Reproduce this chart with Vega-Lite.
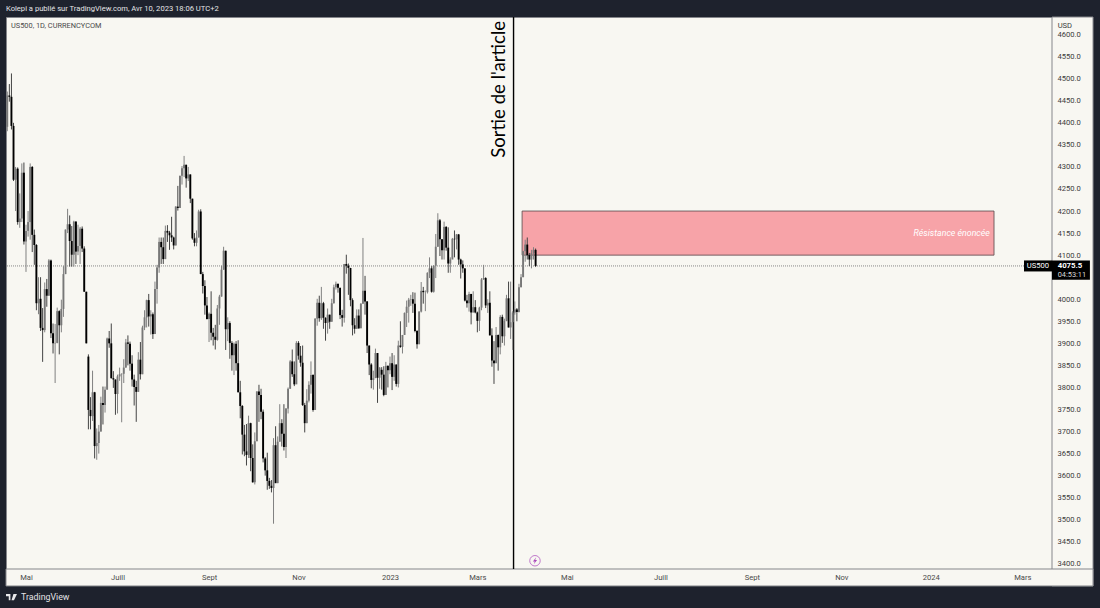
{"$schema":"https://vega.github.io/schema/vega-lite/v6.json","width":1046,"height":552,"autosize":{"type":"none"},"padding":{"left":6,"top":17,"right":48,"bottom":39},"background":"#1e222d","view":{"fill":"#f8f7f2","stroke":"#85868b","strokeWidth":1},"config":{"font":"Roboto"},
"resolve":{"axis":{"x":"independent","y":"independent"}},
"datasets":{"candles":[
{"b":1,"o":4391,"h":4471,"l":4381,"c":4462},{"b":2,"o":4462,"h":4488,"l":4448,"c":4459},{"b":3,"o":4459,"h":4512,"l":4385,"c":4393},{"b":4,"o":4393,"h":4400,"l":4268,"c":4271},
{"b":5,"o":4271,"h":4300,"l":4200,"c":4296},{"b":6,"o":4296,"h":4299,"l":4169,"c":4175},{"b":7,"o":4175,"h":4240,"l":4162,"c":4183},{"b":8,"o":4183,"h":4308,"l":4175,"c":4287},{"b":9,"o":4287,"h":4310,"l":4124,"c":4131},
{"b":10,"o":4131,"h":4169,"l":4062,"c":4155},{"b":11,"o":4155,"h":4200,"l":4142,"c":4175},{"b":12,"o":4175,"h":4308,"l":4135,"c":4300},{"b":13,"o":4300,"h":4302,"l":4107,"c":4146},{"b":14,"o":4146,"h":4158,"l":4078,"c":4123},
{"b":15,"o":4123,"h":4125,"l":3975,"c":3991},{"b":16,"o":3991,"h":4050,"l":3966,"c":4001},{"b":17,"o":4001,"h":4050,"l":3928,"c":3935},{"b":18,"o":3935,"h":3980,"l":3858,"c":3930},{"b":19,"o":3930,"h":4038,"l":3925,"c":4023},
{"b":20,"o":4023,"h":4046,"l":3983,"c":4008},{"b":21,"o":4008,"h":4091,"l":4008,"c":4088},{"b":22,"o":4088,"h":4090,"l":3912,"c":3923},{"b":23,"o":3923,"h":3945,"l":3877,"c":3900},{"b":24,"o":3900,"h":3944,"l":3810,"c":3901},
{"b":25,"o":3901,"h":3981,"l":3900,"c":3973},{"b":26,"o":3973,"h":3975,"l":3875,"c":3941},{"b":27,"o":3941,"h":3999,"l":3925,"c":3978},{"b":28,"o":3978,"h":4075,"l":3960,"c":4057},{"b":29,"o":4057,"h":4158,"l":4057,"c":4158},
{"b":30,"o":4158,"h":4205,"l":4150,"c":4170},{"b":31,"o":4170,"h":4190,"l":4074,"c":4132},{"b":32,"o":4132,"h":4166,"l":4074,"c":4101},{"b":33,"o":4101,"h":4178,"l":4074,"c":4176},{"b":34,"o":4176,"h":4177,"l":4080,"c":4108},
{"b":35,"o":4108,"h":4169,"l":4100,"c":4121},{"b":36,"o":4121,"h":4164,"l":4080,"c":4160},{"b":37,"o":4160,"h":4165,"l":4107,"c":4115},{"b":38,"o":4115,"h":4120,"l":4017,"c":4017},{"b":39,"o":4017,"h":4017,"l":3900,"c":3900},
{"b":40,"o":3870,"h":3875,"l":3705,"c":3749},{"b":41,"o":3749,"h":3778,"l":3705,"c":3735},{"b":42,"o":3735,"h":3838,"l":3724,"c":3789},{"b":43,"o":3789,"h":3790,"l":3639,"c":3667},{"b":44,"o":3667,"h":3707,"l":3636,"c":3674},
{"b":45,"o":3674,"h":3715,"l":3650,"c":3700},{"b":46,"o":3700,"h":3779,"l":3700,"c":3765},{"b":47,"o":3765,"h":3802,"l":3716,"c":3760},{"b":48,"o":3760,"h":3802,"l":3743,"c":3795},{"b":49,"o":3795,"h":3913,"l":3795,"c":3911},
{"b":50,"o":3911,"h":3928,"l":3890,"c":3900},{"b":51,"o":3900,"h":3945,"l":3820,"c":3821},{"b":52,"o":3821,"h":3837,"l":3799,"c":3818},{"b":53,"o":3818,"h":3818,"l":3738,"c":3785},{"b":54,"o":3785,"h":3829,"l":3741,"c":3825},
{"b":55,"o":3825,"h":3845,"l":3815,"c":3830},{"b":56,"o":3830,"h":3832,"l":3721,"c":3831},{"b":57,"o":3831,"h":3864,"l":3810,"c":3845},{"b":58,"o":3845,"h":3910,"l":3845,"c":3902},{"b":59,"o":3902,"h":3918,"l":3850,"c":3899},
{"b":60,"o":3899,"h":3904,"l":3838,"c":3854},{"b":61,"o":3854,"h":3873,"l":3802,"c":3818},{"b":62,"o":3818,"h":3829,"l":3759,"c":3801},{"b":63,"o":3801,"h":3815,"l":3722,"c":3790},{"b":64,"o":3790,"h":3880,"l":3790,"c":3863},
{"b":65,"o":3863,"h":3903,"l":3818,"c":3830},{"b":66,"o":3830,"h":3940,"l":3830,"c":3936},{"b":67,"o":3936,"h":3975,"l":3930,"c":3959},{"b":68,"o":3959,"h":3999,"l":3936,"c":3998},{"b":69,"o":3998,"h":4012,"l":3938,"c":3961},
{"b":70,"o":3961,"h":3975,"l":3920,"c":3966},{"b":71,"o":3966,"h":3970,"l":3910,"c":3921},{"b":72,"o":3921,"h":4040,"l":3921,"c":4023},{"b":73,"o":4023,"h":4078,"l":3990,"c":4072},{"b":74,"o":4072,"h":4140,"l":4060,"c":4130},
{"b":75,"o":4130,"h":4140,"l":4080,"c":4118},{"b":76,"o":4118,"h":4140,"l":4080,"c":4091},{"b":77,"o":4091,"h":4167,"l":4091,"c":4155},{"b":78,"o":4155,"h":4168,"l":4130,"c":4151},{"b":79,"o":4151,"h":4155,"l":4112,"c":4145},
{"b":80,"o":4145,"h":4187,"l":4130,"c":4140},{"b":81,"o":4140,"h":4142,"l":4113,"c":4122},{"b":82,"o":4122,"h":4211,"l":4122,"c":4210},{"b":83,"o":4210,"h":4257,"l":4201,"c":4207},{"b":84,"o":4207,"h":4280,"l":4207,"c":4280},
{"b":85,"o":4280,"h":4302,"l":4260,"c":4297},{"b":86,"o":4297,"h":4325,"l":4277,"c":4305},{"b":87,"o":4305,"h":4305,"l":4253,"c":4274},{"b":88,"o":4274,"h":4300,"l":4268,"c":4283},{"b":89,"o":4283,"h":4283,"l":4218,"c":4228},
{"b":90,"o":4228,"h":4228,"l":4135,"c":4138},{"b":91,"o":4138,"h":4150,"l":4120,"c":4128},{"b":92,"o":4128,"h":4156,"l":4120,"c":4140},{"b":93,"o":4140,"h":4203,"l":4140,"c":4199},{"b":94,"o":4199,"h":4204,"l":4057,"c":4057},
{"b":95,"o":4057,"h":4062,"l":4013,"c":4030},{"b":96,"o":4030,"h":4043,"l":3965,"c":3986},{"b":97,"o":3986,"h":4005,"l":3954,"c":3955},{"b":98,"o":3955,"h":3970,"l":3903,"c":3967},{"b":99,"o":3967,"h":4018,"l":3907,"c":3924},
{"b":100,"o":3924,"h":3935,"l":3895,"c":3915},{"b":101,"o":3915,"h":3942,"l":3886,"c":3908},{"b":102,"o":3908,"h":3987,"l":3906,"c":3979},{"b":103,"o":3979,"h":4010,"l":3942,"c":4006},{"b":104,"o":4006,"h":4076,"l":4006,"c":4067},
{"b":105,"o":4067,"h":4119,"l":4067,"c":4110},{"b":106,"o":4110,"h":4110,"l":3885,"c":3932},{"b":107,"o":3932,"h":3959,"l":3905,"c":3946},{"b":108,"o":3946,"h":3950,"l":3865,"c":3901},{"b":109,"o":3901,"h":3905,"l":3838,"c":3873},
{"b":110,"o":3873,"h":3902,"l":3828,"c":3899},{"b":111,"o":3899,"h":3905,"l":3838,"c":3855},{"b":112,"o":3855,"h":3907,"l":3789,"c":3789},{"b":113,"o":3789,"h":3815,"l":3730,"c":3758},{"b":114,"o":3758,"h":3760,"l":3648,"c":3693},
{"b":115,"o":3693,"h":3715,"l":3644,"c":3655},{"b":116,"o":3655,"h":3717,"l":3623,"c":3647},{"b":117,"o":3647,"h":3736,"l":3640,"c":3719},{"b":118,"o":3719,"h":3720,"l":3610,"c":3640},{"b":119,"o":3640,"h":3671,"l":3584,"c":3585},
{"b":120,"o":3585,"h":3698,"l":3580,"c":3678},{"b":121,"o":3678,"h":3791,"l":3678,"c":3791},{"b":122,"o":3791,"h":3806,"l":3722,"c":3783},{"b":123,"o":3783,"h":3797,"l":3728,"c":3745},{"b":124,"o":3745,"h":3750,"l":3630,"c":3639},
{"b":125,"o":3639,"h":3642,"l":3600,"c":3612},{"b":126,"o":3612,"h":3652,"l":3568,"c":3588},{"b":127,"o":3588,"h":3595,"l":3570,"c":3577},{"b":128,"o":3577,"h":3590,"l":3562,"c":3572},{"b":129,"o":3572,"h":3685,"l":3491,"c":3669},
{"b":130,"o":3669,"h":3712,"l":3583,"c":3583},{"b":131,"o":3583,"h":3689,"l":3583,"c":3677},{"b":132,"o":3677,"h":3762,"l":3677,"c":3719},{"b":133,"o":3719,"h":3728,"l":3666,"c":3695},{"b":134,"o":3695,"h":3762,"l":3657,"c":3665},
{"b":135,"o":3665,"h":3753,"l":3640,"c":3752},{"b":136,"o":3752,"h":3800,"l":3741,"c":3797},{"b":137,"o":3797,"h":3862,"l":3797,"c":3859},{"b":138,"o":3859,"h":3886,"l":3824,"c":3830},{"b":139,"o":3830,"h":3859,"l":3803,"c":3807},
{"b":140,"o":3807,"h":3905,"l":3808,"c":3901},{"b":141,"o":3901,"h":3905,"l":3863,"c":3872},{"b":142,"o":3872,"h":3894,"l":3847,"c":3856},{"b":143,"o":3856,"h":3895,"l":3758,"c":3760},{"b":144,"o":3760,"h":3765,"l":3698,"c":3719},
{"b":145,"o":3719,"h":3796,"l":3719,"c":3770},{"b":146,"o":3770,"h":3814,"l":3766,"c":3806},{"b":147,"o":3806,"h":3859,"l":3786,"c":3828},{"b":148,"o":3828,"h":3830,"l":3745,"c":3749},{"b":149,"o":3749,"h":3957,"l":3749,"c":3956},
{"b":150,"o":3956,"h":4001,"l":3940,"c":3992},{"b":151,"o":3992,"h":4008,"l":3949,"c":3957},{"b":152,"o":3957,"h":4028,"l":3953,"c":3991},{"b":153,"o":3991,"h":3994,"l":3933,"c":3958},{"b":154,"o":3958,"h":3959,"l":3906,"c":3946},
{"b":155,"o":3946,"h":3979,"l":3922,"c":3965},{"b":156,"o":3965,"h":3965,"l":3933,"c":3949},{"b":157,"o":3949,"h":4001,"l":3949,"c":3991},{"b":158,"o":3991,"h":4033,"l":3990,"c":4027},{"b":159,"o":4027,"h":4040,"l":4022,"c":4035},
{"b":160,"o":4035,"h":4035,"l":4015,"c":4026},{"b":161,"o":4026,"h":4026,"l":3955,"c":3964},{"b":162,"o":3964,"h":3976,"l":3938,"c":3958},{"b":163,"o":3958,"h":4080,"l":3947,"c":4080},{"b":164,"o":4080,"h":4101,"l":4058,"c":4076},
{"b":165,"o":4076,"h":4081,"l":4010,"c":4071},{"b":166,"o":4071,"h":4071,"l":3984,"c":3998},{"b":167,"o":3998,"h":4002,"l":3918,"c":3941},{"b":168,"o":3941,"h":3957,"l":3922,"c":3933},{"b":169,"o":3933,"h":3977,"l":3933,"c":3963},
{"b":170,"o":3963,"h":3977,"l":3933,"c":3934},{"b":171,"o":3934,"h":3991,"l":3935,"c":3990},{"b":172,"o":3990,"h":4139,"l":3990,"c":4019},{"b":173,"o":4019,"h":4053,"l":3965,"c":3995},{"b":174,"o":3995,"h":3996,"l":3878,"c":3895},
{"b":175,"o":3895,"h":3895,"l":3828,"c":3852},{"b":176,"o":3852,"h":3855,"l":3798,"c":3817},{"b":177,"o":3817,"h":3838,"l":3795,"c":3821},{"b":178,"o":3821,"h":3888,"l":3827,"c":3878},{"b":179,"o":3878,"h":3878,"l":3765,"c":3822},{"b":180,"o":3822,"h":3846,"l":3797,"c":3845},
{"b":181,"o":3840,"h":3846,"l":3795,"c":3829},{"b":182,"o":3829,"h":3848,"l":3780,"c":3783},{"b":183,"o":3783,"h":3858,"l":3783,"c":3849},{"b":184,"o":3849,"h":3850,"l":3800,"c":3839},
{"b":185,"o":3839,"h":3870,"l":3830,"c":3855},{"b":186,"o":3855,"h":3878,"l":3794,"c":3824},{"b":187,"o":3824,"h":3873,"l":3815,"c":3852},{"b":188,"o":3852,"h":3852,"l":3802,"c":3808},{"b":189,"o":3808,"h":3906,"l":3800,"c":3895},
{"b":190,"o":3895,"h":3950,"l":3890,"c":3892},{"b":191,"o":3892,"h":3919,"l":3877,"c":3919},{"b":192,"o":3919,"h":3970,"l":3919,"c":3969},{"b":193,"o":3969,"h":3997,"l":3937,"c":3983},{"b":194,"o":3983,"h":4003,"l":3947,"c":3999},
{"b":195,"o":3999,"h":4010,"l":3985,"c":4000},{"b":196,"o":4000,"h":4016,"l":3969,"c":3990},{"b":197,"o":3990,"h":4015,"l":3925,"c":3928},{"b":198,"o":3928,"h":3930,"l":3888,"c":3898},{"b":199,"o":3898,"h":3973,"l":3898,"c":3972},
{"b":200,"o":3972,"h":4039,"l":3970,"c":4019},{"b":201,"o":4019,"h":4028,"l":3990,"c":4016},{"b":202,"o":4016,"h":4020,"l":3973,"c":4016},{"b":203,"o":4016,"h":4061,"l":4013,"c":4060},{"b":204,"o":4060,"h":4095,"l":4048,"c":4070},
{"b":205,"o":4070,"h":4075,"l":4015,"c":4017},{"b":206,"o":4017,"h":4077,"l":4015,"c":4076},{"b":207,"o":4076,"h":4148,"l":4048,"c":4119},{"b":208,"o":4119,"h":4195,"l":4119,"c":4179},{"b":209,"o":4179,"h":4182,"l":4098,"c":4136},
{"b":210,"o":4136,"h":4136,"l":4090,"c":4111},{"b":211,"o":4111,"h":4176,"l":4090,"c":4164},{"b":212,"o":4164,"h":4166,"l":4110,"c":4117},{"b":213,"o":4117,"h":4163,"l":4060,"c":4081},{"b":214,"o":4081,"h":4095,"l":4060,"c":4090},
{"b":215,"o":4090,"h":4139,"l":4093,"c":4137},{"b":216,"o":4137,"h":4156,"l":4095,"c":4136},{"b":217,"o":4136,"h":4148,"l":4113,"c":4147},{"b":218,"o":4147,"h":4148,"l":4078,"c":4090},{"b":219,"o":4090,"h":4092,"l":4047,"c":4079},
{"b":220,"o":4079,"h":4088,"l":4060,"c":4070},{"b":221,"o":4070,"h":4070,"l":3995,"c":3997},{"b":222,"o":3997,"h":4010,"l":3981,"c":3991},{"b":223,"o":3991,"h":4017,"l":3972,"c":4012},{"b":224,"o":4012,"h":4012,"l":3943,"c":3970},
{"b":225,"o":3970,"h":4018,"l":3970,"c":3982},{"b":226,"o":3982,"h":3998,"l":3968,"c":3970},{"b":227,"o":3970,"h":3972,"l":3925,"c":3951},{"b":228,"o":3951,"h":3983,"l":3928,"c":3981},{"b":229,"o":3981,"h":4048,"l":3975,"c":4045},
{"b":230,"o":4045,"h":4078,"l":4044,"c":4048},{"b":231,"o":4048,"h":4050,"l":3980,"c":3986},{"b":232,"o":3986,"h":4000,"l":3969,"c":3992},{"b":233,"o":3992,"h":4018,"l":3918,"c":3918},{"b":234,"o":3918,"h":3934,"l":3847,"c":3861},
{"b":235,"o":3861,"h":3905,"l":3808,"c":3855},{"b":236,"o":3855,"h":3937,"l":3855,"c":3919},{"b":237,"o":3919,"h":3920,"l":3838,"c":3891},{"b":238,"o":3891,"h":3964,"l":3875,"c":3960},{"b":239,"o":3960,"h":3965,"l":3901,"c":3916},
{"b":240,"o":3916,"h":3956,"l":3895,"c":3951},{"b":241,"o":3951,"h":4010,"l":3950,"c":4002},{"b":242,"o":4002,"h":4040,"l":3936,"c":3936},{"b":243,"o":3936,"h":4040,"l":3910,"c":3948},{"b":244,"o":3948,"h":3973,"l":3885,"c":3970},
{"b":245,"o":3970,"h":3995,"l":3965,"c":3977},{"b":246,"o":3977,"h":3980,"l":3950,"c":3971},{"b":247,"o":3971,"h":4035,"l":3970,"c":4027},{"b":248,"o":4027,"h":4057,"l":4027,"c":4050},{"b":249,"o":4050,"h":4110,"l":4050,"c":4109},
{"b":250,"o":4109,"h":4135,"l":4085,"c":4124},{"b":251,"o":4124,"h":4140,"l":4090,"c":4100},{"b":252,"o":4100,"h":4105,"l":4075,"c":4090},{"b":253,"o":4090,"h":4112,"l":4070,"c":4105},{"b":254,"o":4105,"h":4118,"l":4090,"c":4112},{"b":255,"o":4112,"h":4115,"l":4073,"c":4075.5}
]},
"layer":[
{"data":{"values":[{"b1":503.27,"b2":523,"p1":3349.8,"p2":4640},{"b1":0.385,"b2":523,"p1":3349.8,"p2":3388.3}]},"mark":{"type":"rect","fill":"#f8f7f2","stroke":"#85868b","strokeWidth":1},
"encoding":{"x":{"field":"b1","type":"quantitative","scale":{"domain":[0.385,503.27],"nice":false,"zero":false,"padding":0},"title":null,"axis":{"orient":"bottom","zindex":1,"values":[10,54,98,141,185,227,270,315,359,402,445,489],"labelExpr":"['Mai','Juill','Sept','Nov','2023','Mars','Mai','Juill','Sept','Nov','2024','Mars'][indexof([10,54,98,141,185,227,270,315,359,402,445,489],datum.value)]","domain":false,"ticks":false,"grid":false,"labelFontSize":7.6,"labelColor":"#4a4a4a","labelPadding":4,"labelFont":"Roboto"}},"x2":{"field":"b2"},
"y":{"field":"p1","type":"quantitative","scale":{"domain":[3388.3,4640],"nice":false,"zero":false},"title":null,"axis":{"orient":"right","zindex":1,"values":[3400,3450,3500,3550,3600,3650,3700,3750,3800,3850,3900,3950,4000,4100,4150,4200,4250,4300,4350,4400,4450,4500,4550,4600],"format":".1f","domain":false,"ticks":false,"grid":false,"labelFontSize":7.6,"labelColor":"#3c3c3c","labelPadding":5,"labelFont":"Roboto"}},"y2":{"field":"p2"}}},
{"data":{"values":[{"b1":248.5,"b2":475.4,"p1":4100,"p2":4200}]},"mark":{"type":"rect","fill":"#f7a3a8","stroke":"#55474a","strokeWidth":0.8},"encoding":{"x":{"field":"b1","type":"quantitative","axis":null},"x2":{"field":"b2"},"y":{"field":"p1","type":"quantitative","axis":null},"y2":{"field":"p2"}}},
{"data":{"values":[{"p":4075.5}]},"mark":{"type":"rule","stroke":"#888888","strokeWidth":1,"strokeDash":[1,1]},"encoding":{"y":{"field":"p","type":"quantitative","axis":null}}},
{"data":{"values":[{"b":244.4}]},"mark":{"type":"rule","stroke":"#000000","strokeWidth":1.4},"encoding":{"x":{"field":"b","type":"quantitative","axis":null}}},
{"data":{"name":"candles"},"mark":{"type":"rule","strokeWidth":1},"encoding":{"x":{"field":"b","type":"quantitative","axis":null},"y":{"field":"l","type":"quantitative","axis":null},"y2":{"field":"h"},"color":{"condition":{"test":"datum.c>=datum.o","value":"#808080"},"value":"#444444"}}},
{"data":{"name":"candles"},"mark":{"type":"bar","size":1.9},"encoding":{"x":{"field":"b","type":"quantitative","axis":null},"y":{"field":"o","type":"quantitative","axis":null},"y2":{"field":"c"},"color":{"condition":{"test":"datum.c>=datum.o","value":"#787878"},"value":"#000000"}}},
{"data":{"values":[{"b1":489.8,"b2":503.27,"p1":4063,"p2":4088},{"b1":503.27,"b2":521.5,"p1":4044,"p2":4088}]},"mark":{"type":"rect","fill":"#000000"},"encoding":{"x":{"field":"b1","type":"quantitative","axis":null},"x2":{"field":"b2"},"y":{"field":"p1","type":"quantitative","axis":null},"y2":{"field":"p2"}}},
{"data":{"values":[{"b":0.385,"p":4658,"t":"Kolepi a publié sur TradingView.com, Avr 10, 2023 18:06 UTC+2"}]},"mark":{"type":"text","align":"left","baseline":"middle","fontSize":7.6,"fill":"#e4e4e6","font":"Roboto"},"encoding":{"x":{"field":"b","type":"quantitative","axis":null},"y":{"field":"p","type":"quantitative","axis":null},"text":{"field":"t"}}},
{"data":{"values":[{"b":2.8,"p":4620,"t":"US500, 1D, CURRENCYCOM"}]},"mark":{"type":"text","align":"left","baseline":"middle","fontSize":7.4,"fill":"#4a4a4a","font":"Roboto"},"encoding":{"x":{"field":"b","type":"quantitative","axis":null},"y":{"field":"p","type":"quantitative","axis":null},"text":{"field":"t"}}},
{"data":{"values":[{"b":506,"p":4620,"t":"USD"}]},"mark":{"type":"text","align":"left","baseline":"middle","fontSize":7.6,"fill":"#3c3c3c","font":"Roboto"},"encoding":{"x":{"field":"b","type":"quantitative","axis":null},"y":{"field":"p","type":"quantitative","axis":null},"text":{"field":"t"}}},
{"data":{"values":[{"b":242,"p":4476,"t":"Sortie de l'article"}]},"mark":{"type":"text","align":"center","baseline":"bottom","angle":270,"fontSize":18.6,"fill":"#000000","font":"Lato"},"encoding":{"x":{"field":"b","type":"quantitative","axis":null},"y":{"field":"p","type":"quantitative","axis":null},"text":{"field":"t"}}},
{"data":{"values":[{"b":473.4,"p":4150,"t":"Résistance énoncée"}]},"mark":{"type":"text","align":"right","baseline":"middle","fontSize":8.8,"fontStyle":"italic","fill":"#ffffff","font":"Roboto"},"encoding":{"x":{"field":"b","type":"quantitative","axis":null},"y":{"field":"p","type":"quantitative","axis":null},"text":{"field":"t"}}},
{"data":{"values":[{"b":496.5,"p":4075.5,"t":"US500"}]},"mark":{"type":"text","align":"center","baseline":"middle","fontSize":7.6,"fill":"#ffffff","font":"Roboto"},"encoding":{"x":{"field":"b","type":"quantitative","axis":null},"y":{"field":"p","type":"quantitative","axis":null},"text":{"field":"t"}}},
{"data":{"values":[{"b":506,"p":4076.5,"t":"4075.5"}]},"mark":{"type":"text","align":"left","baseline":"middle","fontSize":7.8,"fontWeight":"bold","fill":"#ffffff","font":"Roboto"},"encoding":{"x":{"field":"b","type":"quantitative","axis":null},"y":{"field":"p","type":"quantitative","axis":null},"text":{"field":"t"}}},
{"data":{"values":[{"b":506,"p":4055.5,"t":"04:53:11"}]},"mark":{"type":"text","align":"left","baseline":"middle","fontSize":7.4,"fill":"#d8d8d8","font":"Roboto"},"encoding":{"x":{"field":"b","type":"quantitative","axis":null},"y":{"field":"p","type":"quantitative","axis":null},"text":{"field":"t"}}},
{"data":{"values":[{"b":254.7,"p":3407}]},"mark":{"type":"point","shape":"circle","size":110,"filled":false,"stroke":"#ab47bc","strokeWidth":1},"encoding":{"x":{"field":"b","type":"quantitative","axis":null},"y":{"field":"p","type":"quantitative","axis":null}}},
{"data":{"values":[{"b":254.7,"p":3407}]},"mark":{"type":"point","shape":"M0.35,-1L-0.6,0.2L-0.05,0.2L-0.35,1L0.6,-0.2L0.05,-0.2Z","size":49,"filled":true,"fill":"#ab47bc","opacity":1},"encoding":{"x":{"field":"b","type":"quantitative","axis":null},"y":{"field":"p","type":"quantitative","axis":null}}},
{"data":{"values":[{"b":3.03,"p":3325}]},"mark":{"type":"point","shape":"M-1,-0.55L-0.2,-0.55L-0.2,0.6L-0.5,0.6L-0.5,-0.1L-1,-0.1ZM0.35,-0.55L1,-0.55L0.45,0.6L0,0.6Z","size":121,"filled":true,"fill":"#e8e8ea","opacity":1},"encoding":{"x":{"field":"b","type":"quantitative","axis":null},"y":{"field":"p","type":"quantitative","axis":null}}},
{"data":{"values":[{"b":7.6,"p":3325,"t":"TradingView"}]},"mark":{"type":"text","align":"left","baseline":"middle","fontSize":8.8,"fill":"#e4e4e6","font":"Roboto"},"encoding":{"x":{"field":"b","type":"quantitative","axis":null},"y":{"field":"p","type":"quantitative","axis":null},"text":{"field":"t"}}}
]}
